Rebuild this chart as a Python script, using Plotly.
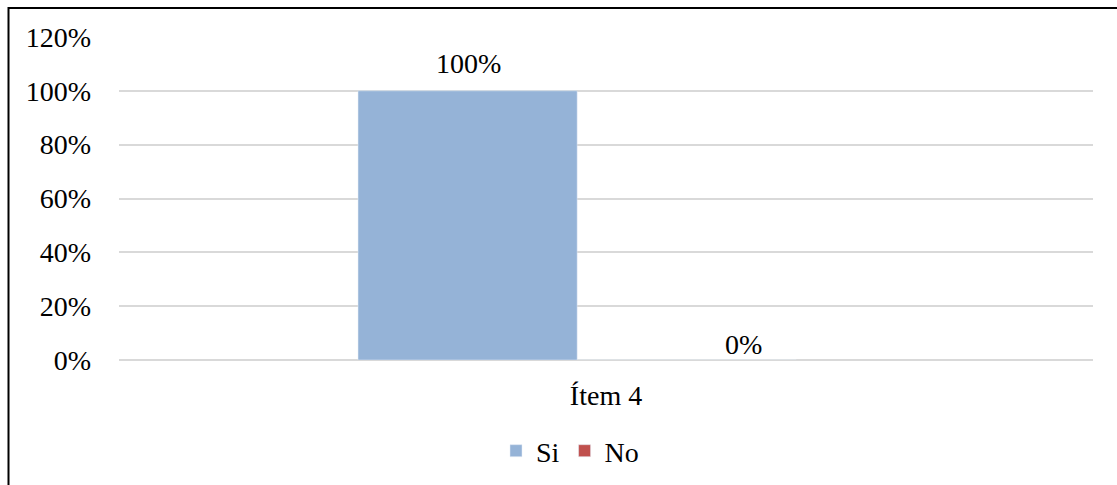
import plotly.graph_objects as go

categories = ["Ítem 4"]
si_values = [1.00]
no_values = [0.00]
y_ticks = [0, 0.2, 0.4, 0.6, 0.8, 1.0, 1.2]
y_tick_labels = ["0%", "20%", "40%", "60%", "80%", "100%", "120%"]

FONT = dict(family="Liberation Serif, Times New Roman, serif", size=28, color="#000000")

BAR_WIDTH = 0.225

fig = go.Figure()
fig.add_trace(go.Bar(
    name="Si", x=categories, y=si_values, marker_color="#95B3D7",
    width=BAR_WIDTH, offset=-0.2546, cliponaxis=False,
))
fig.add_trace(go.Bar(
    name="No", x=categories, y=no_values, marker_color="#C0504D",
    width=BAR_WIDTH, offset=-0.0296, cliponaxis=False,
))

# value labels above each bar
fig.add_annotation(
    x=categories[0], y=si_values[0], xref="x", yref="y",
    text=f"{si_values[0]:.0%}", showarrow=False, font=FONT,
    xshift=-138, yanchor="middle", yshift=27,
)
fig.add_annotation(
    x=categories[0], y=no_values[0], xref="x", yref="y",
    text=f"{no_values[0]:.0%}", showarrow=False, font=FONT,
    xshift=137, yanchor="middle", yshift=16,
)

fig.update_layout(
    width=1117, height=485,
    margin=dict(l=119, r=24, t=37, b=125, autoexpand=False),
    paper_bgcolor="white", plot_bgcolor="white",
    font=FONT,
    barmode="overlay",
    showlegend=True,
    legend=dict(
        orientation="h", xref="container", yref="container",
        x=570 / 1117, xanchor="center", y=1 - 451 / 485, yanchor="middle",
        font=FONT, itemwidth=30, traceorder="normal",
    ),
    xaxis=dict(showgrid=False, showline=False, ticks="", ticklabelstandoff=16,
               tickfont=FONT, automargin=False),
    yaxis=dict(range=[0, 1.2], tickvals=y_ticks, ticktext=y_tick_labels,
               showgrid=True, gridcolor="#D9D9D9", gridwidth=1.5,
               zeroline=True, zerolinecolor="#D9D9D9", zerolinewidth=1.5,
               showline=False, ticks="", ticklabelstandoff=27, tickfont=FONT,
               automargin=False),
    shapes=[dict(
        type="rect", xref="paper", yref="paper",
        x0=(8.5 - 119) / 974, x1=(1125 - 119) / 974,
        y0=(360 - 495) / 323, y1=(360 - 8) / 323,
        line=dict(color="#000000", width=2), fillcolor="rgba(0,0,0,0)",
        layer="above",
    )],
)

fig.write_html("out.html")
